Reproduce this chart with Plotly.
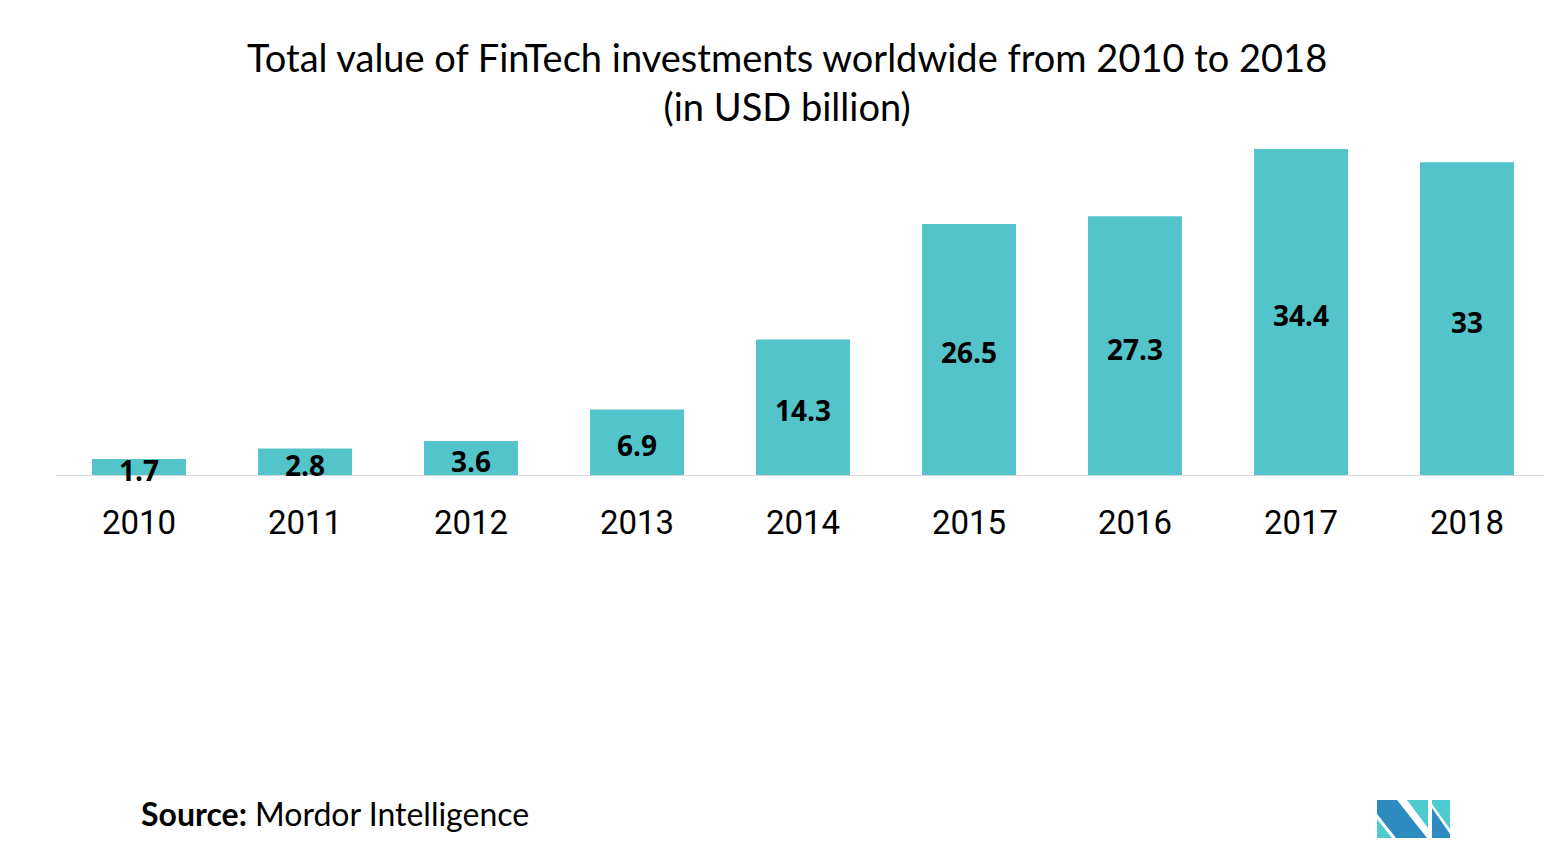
import plotly.graph_objects as go

years = ["2010", "2011", "2012", "2013", "2014", "2015", "2016", "2017", "2018"]
values = [1.7, 2.8, 3.6, 6.9, 14.3, 26.5, 27.3, 34.4, 33]
labels = ["1.7", "2.8", "3.6", "6.9", "14.3", "26.5", "27.3", "34.4", "33"]

BAR = "#53C4C9"

# page renders with an 8px body margin; compensate
OFF = 8
W, H = 1552, 855
pl, pr, pt, pb = 56 - OFF, 2 + OFF, 96 - OFF, 380 + OFF
pw, ph = W - pl - pr, H - pt - pb


def px(x):
    return (x - OFF - pl) / pw


def py(y):
    return (H - pb - (y - OFF)) / ph


fig = go.Figure()
fig.add_trace(go.Bar(
    x=years, y=values,
    marker=dict(color=BAR, line=dict(width=0)),
    hoverinfo="x+y",
))

# category index positions for the value labels
value_anns = [
    dict(x=i, y=v / 2, xref="x", yref="y", text=lab, showarrow=False,
         xanchor="center", yanchor="middle", yshift=-3,
         font=dict(family="Open Sans", size=28, color="#000000", weight="bold"))
    for i, (v, lab) in enumerate(zip(values, labels))
]

fig.update_layout(
    width=W, height=H,
    margin=dict(l=pl, r=pr, t=pt, b=pb),
    paper_bgcolor="white", plot_bgcolor="white",
    bargap=0.434,
    showlegend=False,
    xaxis=dict(type="category", showline=True, linecolor="#D9D9D9", linewidth=1,
               range=[-0.5, len(years) - 0.5],
               showgrid=False, ticks="", ticklabelstandoff=18,
               tickfont=dict(family="Roboto", size=33, color="#000000")),
    yaxis=dict(range=[0, 40], visible=False, showgrid=False, zeroline=False),
    annotations=value_anns + [
        dict(text="Total value of FinTech investments worldwide from 2010 to 2018<br>(in USD billion)",
             x=px(787), y=py(81), xref="paper", yref="paper", showarrow=False,
             xanchor="center", yanchor="middle",
             font=dict(family="Lato", size=38, color="#000000")),
        dict(text="<b>Source:</b> Mordor Intelligence", x=px(139), y=py(814),
             xref="paper", yref="paper",
             showarrow=False, xanchor="left", yanchor="middle",
             font=dict(family="Lato", size=32, color="#000000")),
    ],
)

# logo
DARK = "#2E8BC0"
TEAL = "#4DCBD0"


def poly(pts, color):
    path = "M " + " L ".join(f"{px(x)},{py(y)}" for x, y in pts) + " Z"
    fig.add_shape(type="path", path=path, xref="paper", yref="paper",
                  fillcolor=color, line=dict(width=0), layer="above")


poly([(1377, 800), (1397, 800), (1427, 838), (1396, 838), (1377, 814)], DARK)
poly([(1377, 819), (1377, 838), (1392, 838)], TEAL)
poly([(1407, 800), (1428, 800), (1428, 828)], TEAL)
poly([(1432, 800), (1450, 800), (1450, 829), (1432, 804)], TEAL)
poly([(1432, 808), (1450, 834), (1450, 838), (1432, 838)], DARK)

fig.write_html("out.html")
